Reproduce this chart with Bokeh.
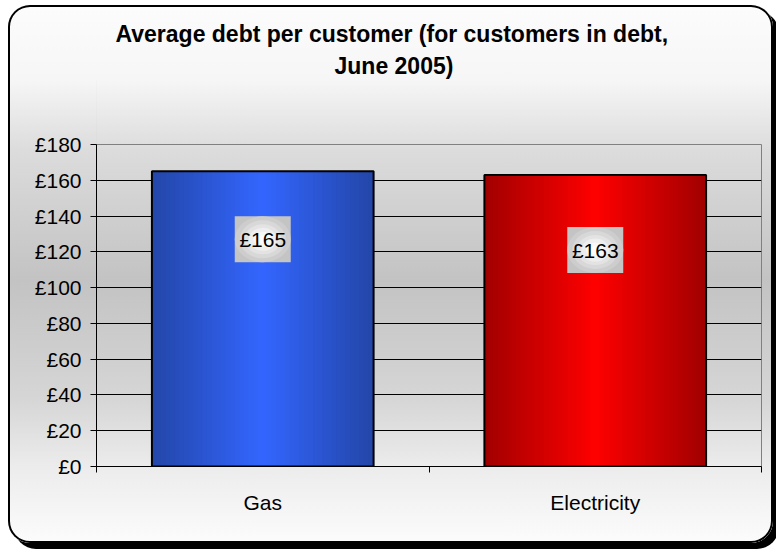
import numpy as np
from bokeh.plotting import figure
from bokeh.models import Range1d, FixedTicker, PrintfTickFormatter, Title, LinearAxis
from bokeh.core.properties import value
from bokeh.embed import file_html
from bokeh.resources import INLINE

# ---- data ----
categories = ["Gas", "Electricity"]
debt = [165, 163]
y_ticks = [0, 20, 40, 60, 80, 100, 120, 140, 160, 180]
value_labels = ["£165", "£163"]
title_lines = ["Average debt per customer (for customers in debt,", "June 2005)"]

# ---- style ----
W, H = 765, 538          # the rounded chart box
FONT = "Liberation Sans"
n = len(categories)
bar_width = 2 / 3
bar_palettes = [((35, 70, 168), (51, 102, 255)), ((160, 0, 0), (255, 0, 0))]
label_drop = [38, 42]    # how far (in value units) each label box sits below its bar top

p = figure(width=W, height=H, output_backend="svg", toolbar_location=None, title=None,
           x_range=Range1d(0, n), y_range=Range1d(y_ticks[0], y_ticks[-1]),
           min_border_left=88, min_border_right=12, min_border_top=139,
           min_border_bottom=77)
p.border_fill_alpha = 0
p.background_fill_alpha = 0
p.outline_line_color = "#808080"
p.outline_line_width = 1
p.styles = {
    "margin-left": "8px",
    "margin-top": "5px",
    "border-radius": "22px",
    "background": "linear-gradient(to bottom, #fcfcfc 0px, #f6f6f6 75px, #dcdcdc 145px, "
                  "#c3c3c3 275px, #d6d6d6 395px, #ececec 462px, #fcfcfc 538px)",
    "box-shadow": "inset 0 0 0 2px black, 6px 6px 0 0 black",
}

# ---- bars with horizontal gradient ----
N = 48
for i, v in enumerate(debt):
    c = i + 0.5
    edges = np.linspace(c - bar_width / 2, c + bar_width / 2, N + 1)
    xs = (edges[:-1] + edges[1:]) / 2
    t = np.abs((xs - c) / (bar_width / 2))
    dark, bright = bar_palettes[i]
    cols = []
    for tt in t:
        f = min(tt, 1.0)
        rgb = tuple(int(round(bright[k] + (dark[k] - bright[k]) * f)) for k in range(3))
        cols.append("#%02x%02x%02x" % rgb)
    p.vbar(x=xs, top=[v] * N, bottom=0, width=(edges[1] - edges[0]) * 1.2,
           fill_color=cols, line_color=None)
    p.vbar(x=[c], top=[v], bottom=0, width=bar_width, fill_color=None,
           line_color="black", line_width=2)

# ---- value labels: grey box with radial-looking highlight ----
lx = [i + 0.5 for i in range(n)]
ly = [v - d for v, d in zip(debt, label_drop)]
p.rect(x=lx, y=ly, width=56, height=46, width_units="screen", height_units="screen",
       fill_color="#c4c4c4", line_color=None)
for (ew, eh, col) in [(56, 46, "#cdcdcd"), (46, 38, "#d8d8d8"), (37, 30, "#e3e3e3"),
                      (28, 23, "#eeeeee"), (19, 15, "#f7f7f7"), (10, 8, "#fdfdfd")]:
    p.ellipse(x=lx, y=ly, width=ew, height=eh, width_units="screen", height_units="screen",
              fill_color=col, line_color=None)
p.text(x=lx, y=ly, text=value_labels, text_align="center", text_baseline="middle",
       text_font=value(FONT), text_font_size="21px", text_color="black")

# ---- axes ----
ya = p.yaxis[0]
ya.ticker = FixedTicker(ticks=y_ticks)
ya.formatter = PrintfTickFormatter(format="£%d")
ya.major_tick_in = 0
ya.major_tick_out = 6
ya.minor_tick_in = 0
ya.minor_tick_out = 0
ya.axis_line_color = "black"
ya.major_tick_line_color = "black"
ya.major_label_text_font = FONT
ya.major_label_text_font_size = "21px"
ya.major_label_text_color = "black"
ya.major_label_standoff = 9

xa = p.xaxis[0]
centers = [i + 0.5 for i in range(n)]
xa.ticker = FixedTicker(ticks=centers, minor_ticks=list(range(n + 1)))
xa.major_label_overrides = {c: cat for c, cat in zip(centers, categories)}
xa.major_tick_in = 0
xa.major_tick_out = 0
xa.minor_tick_in = 0
xa.minor_tick_out = 6
xa.minor_tick_line_color = "black"
xa.axis_line_color = "black"
xa.major_label_text_font = FONT
xa.major_label_text_font_size = "21px"
xa.major_label_text_color = "black"
xa.major_label_standoff = 18

p.ygrid.ticker = FixedTicker(ticks=y_ticks[:-1])
p.ygrid.grid_line_color = "black"
p.ygrid.grid_line_width = 1
p.xgrid.visible = False

# ---- invisible spacer between plot area and title (a transparent tick gives it height) ----
spacer = LinearAxis(ticker=FixedTicker(ticks=[0]), major_tick_out=64, major_tick_in=0,
                    minor_tick_out=0, minor_tick_in=0, axis_line_color=None,
                    major_tick_line_color="black", major_tick_line_alpha=0.01,
                    minor_tick_line_color=None, major_label_standoff=0,
                    major_label_overrides={0: ""}, major_label_text_alpha=0)
p.add_layout(spacer, "above")

# ---- title (two lines, centred on the chart box) ----
p.add_layout(Title(text=title_lines[1], align="left", offset=238, standoff=4,
                   text_font=FONT, text_font_size="23px", text_font_style="bold",
                   text_color="black"), "above")
p.add_layout(Title(text=title_lines[0], align="left", offset=19, standoff=4,
                   text_font=FONT, text_font_size="23px", text_font_style="bold",
                   text_color="black"), "above")

open("out.html", "w").write(file_html(p, INLINE))
